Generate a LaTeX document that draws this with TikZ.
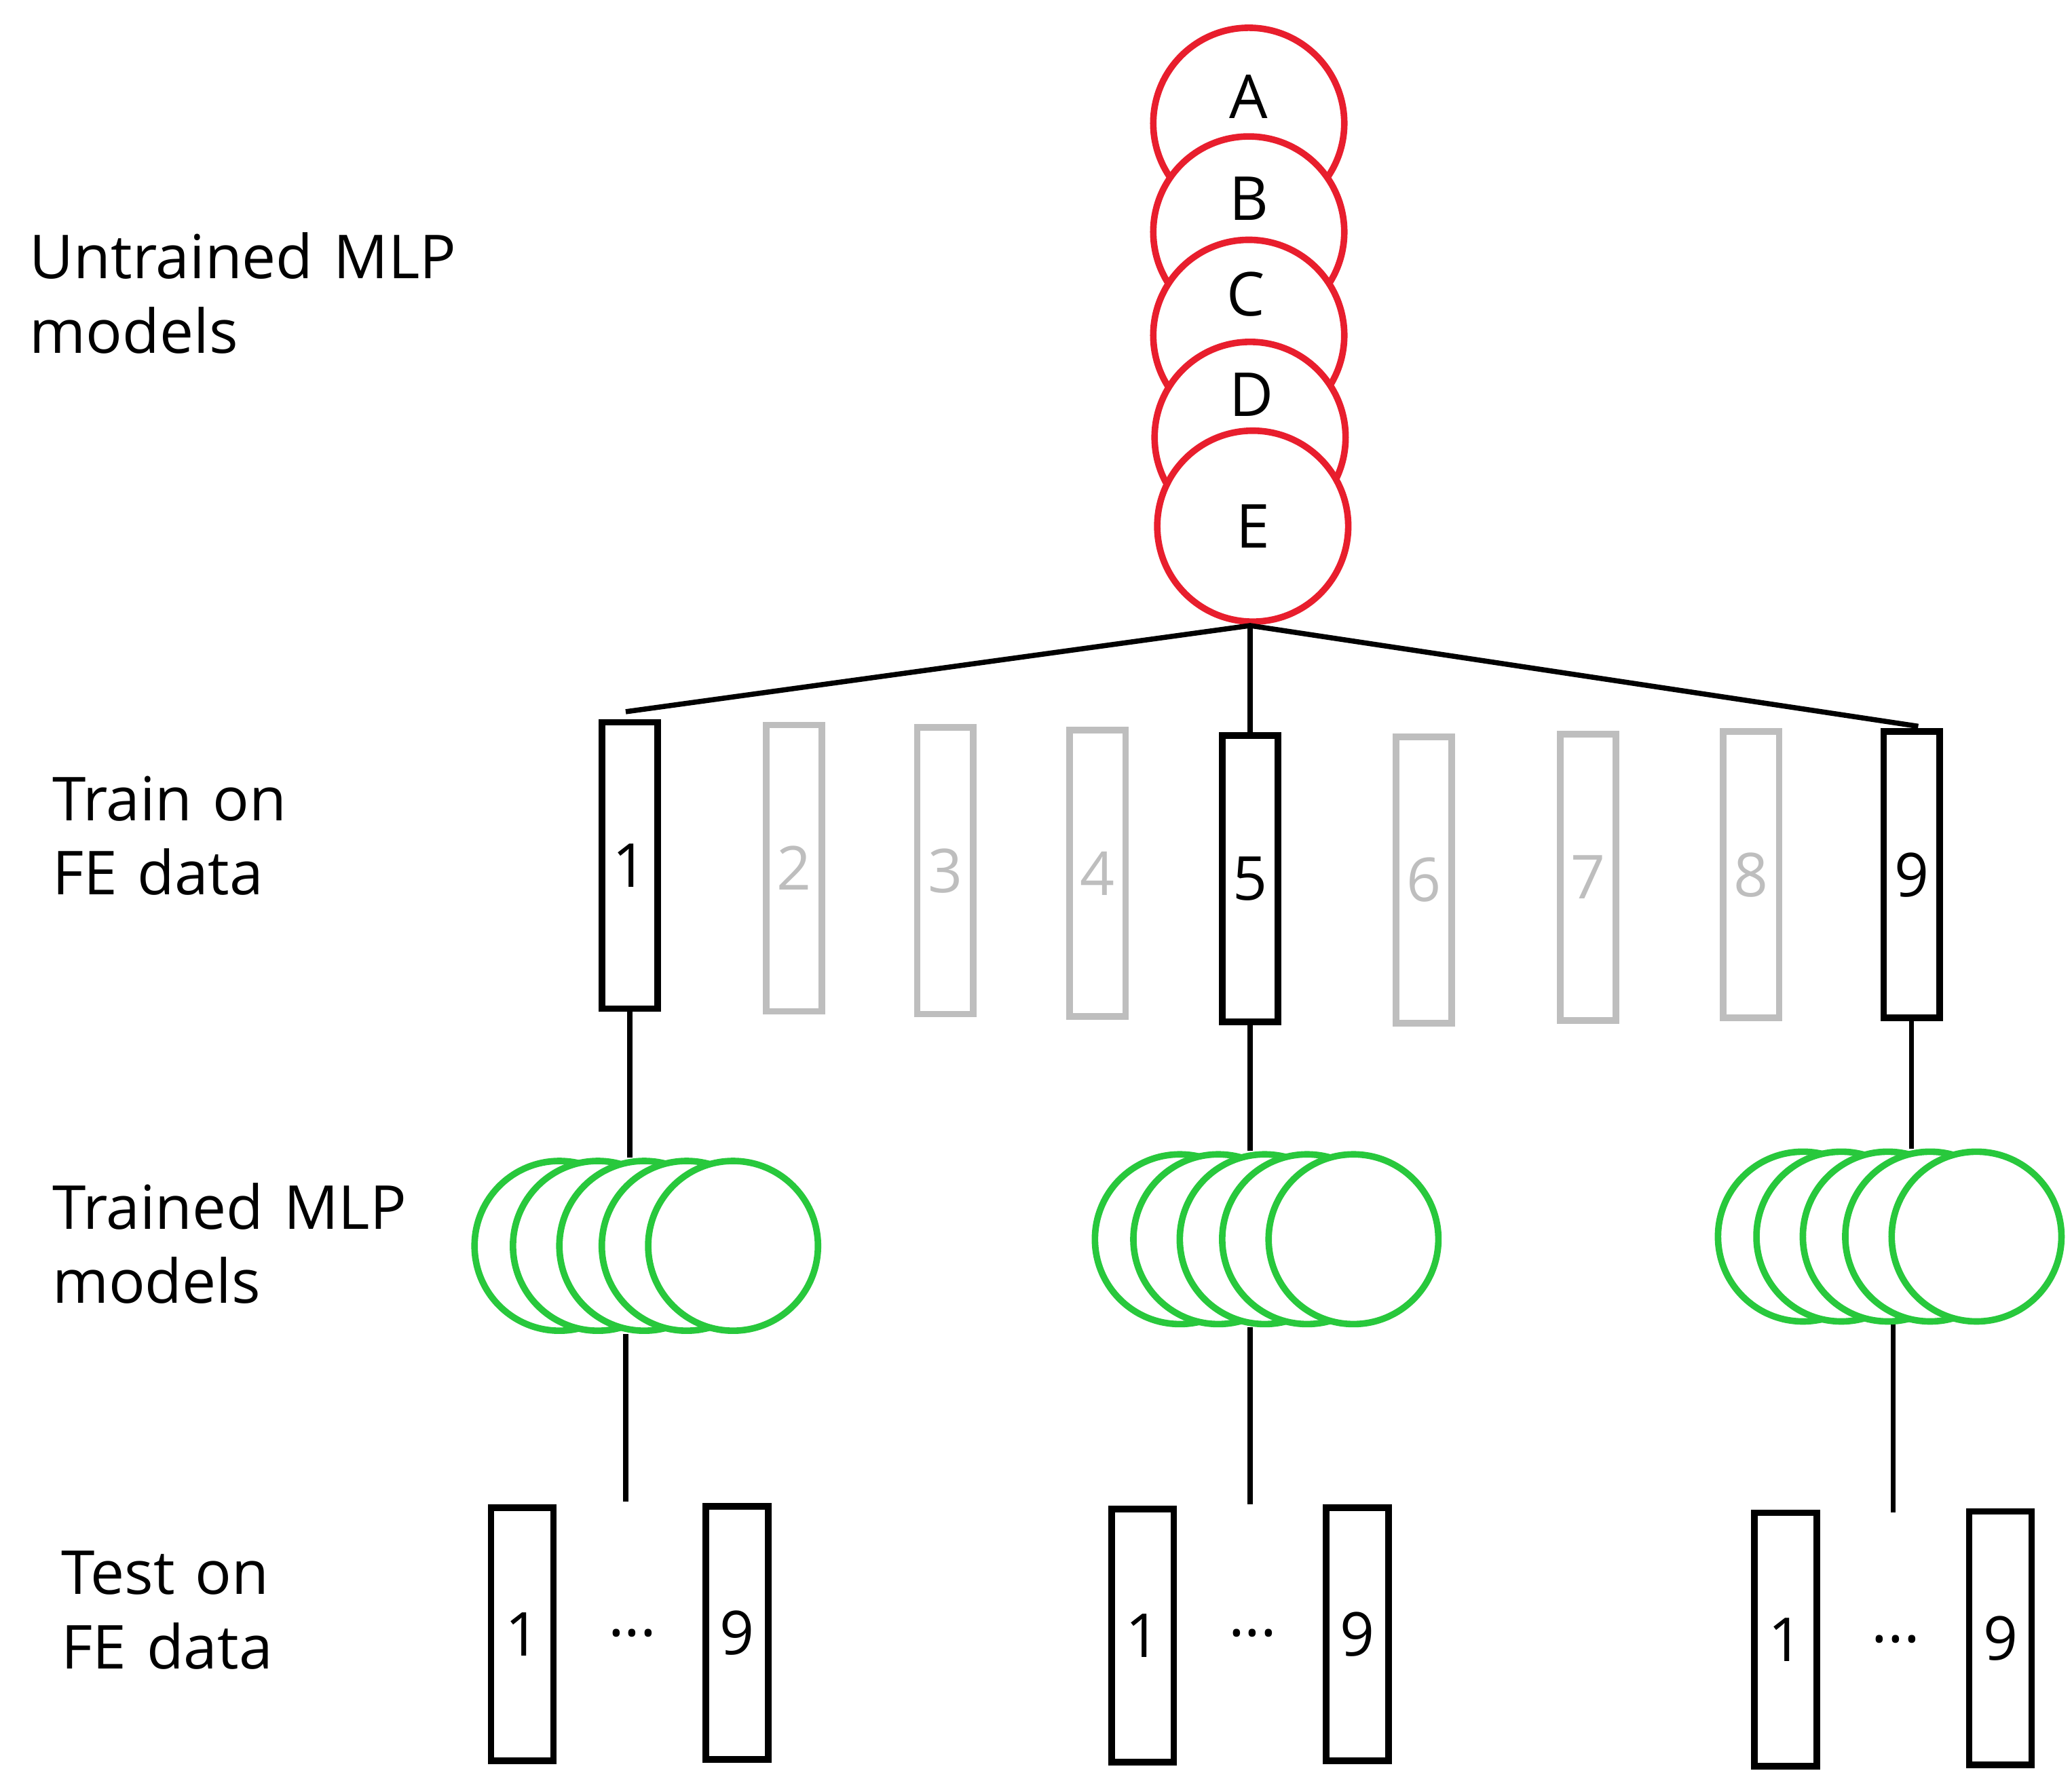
\documentclass[tikz,border=0pt]{standalone}
\usepackage{fontspec}
\setmainfont{Open Sans}
\definecolor{redc}{RGB}{232,30,45}
\definecolor{greenc}{RGB}{40,200,60}
\definecolor{greyc}{RGB}{190,190,190}
\begin{document}
\begin{tikzpicture}
[
x=0.01cm, y=-0.01cm,
font=\fontsize{13}{16}\selectfont,
% untrained models
untrained/.style={circle, draw=redc, line width=1.4pt, fill=white, minimum size=1.44cm, inner sep=0pt},
% trained models
trained/.style={circle, draw=greenc, line width=1.4pt, fill=white, minimum size=1.28cm, inner sep=0pt},
% data sets
data/.style={rectangle, draw=black, line width=1.4pt, minimum width=0.42cm, minimum height=2.16cm, inner sep=0pt},
unused/.style={data, draw=greyc, text=greyc},
test/.style={data, minimum width=0.47cm, minimum height=1.91cm},
link/.style={line width=1.1pt},
label/.style={align=left, anchor=north west, text width=4cm}
]
    \useasboundingbox (0,0) rectangle (1563,1352);
    % labels
    \node[label] (l1) at (10,163) {Untrained MLP\\models};
    \node[label] (l2) at (27,573) {Train on\\FE data};
    \node[label] (l3) at (27,880) {Trained MLP\\models};
    \node[label] (l4) at (34,1158) {Test on\\FE data};
    % untrained models
    \node[untrained] (A) at (942,93) {};
    \node[untrained] (B) at (942,175) {};
    \node[untrained] (C) at (942,253) {};
    \node[untrained] (D) at (943,330) {};
    \node[untrained] (E) at (945,397) {E};
    \node at (942,73) {A};
    \node at (942,150) {B};
    \node at (940,222) {C};
    \node at (944,298) {D};
    % training sets
    \node[data] (t1) at (475,653) {1};
    \node[unused] (t2) at (599,655) {2};
    \node[unused] (t3) at (713,657) {3};
    \node[unused] (t4) at (828,659) {4};
    \node[data] (t5) at (943,663) {5};
    \node[unused] (t6) at (1074,664) {6};
    \node[unused] (t7) at (1198,662) {7};
    \node[unused] (t8) at (1321,660) {8};
    \node[data] (t9) at (1442,660) {9};
    \coordinate (s) at (943,472);
    \coordinate (s1) at (472,537);
    \coordinate (s9) at (1447,548);
    \draw[link] (s1) -- (s) -- (s9);
    \draw[link] (s) -- (t5.north);
    % trained models
    \foreach \g/\y [count=\i] in {422/940, 890/935, 1360/933}{
      \foreach \dx [count=\j] in {0,29,64,96,131}{
        \node[trained] (m\i\j) at (\g+\dx,\y) {};
      }
    }
    \draw[link] (t1.south) -- (t1.south |- m13.north);
    \draw[link] (t5.south) -- (t5.south |- m23.north);
    \draw[link] (t9.south) -- (t9.south |- m34.north);
    % test sets
    \node[test] (a1) at (394,1233) {1};
    \node[test] (a9) at (556,1232) {9};
    \node (ad) at (477,1232) {...};
    \node[test] (b1) at (862,1234) {1};
    \node[test] (b9) at (1024,1233) {9};
    \node (bd) at (945,1232) {...};
    \node[test] (c1) at (1347,1237) {1};
    \node[test] (c9) at (1509,1236) {9};
    \node (cd) at (1430,1237) {...};
    \coordinate (ea) at (472,1133);
    \coordinate (eb) at (943,1135);
    \coordinate (ec) at (1428,1141);
    \draw[link] (ea |- m13.south) -- (ea);
    \draw[link] (eb |- m23.south) -- (eb);
    \draw[link] (ec |- m33.south) -- (ec);
\end{tikzpicture}
\end{document}
